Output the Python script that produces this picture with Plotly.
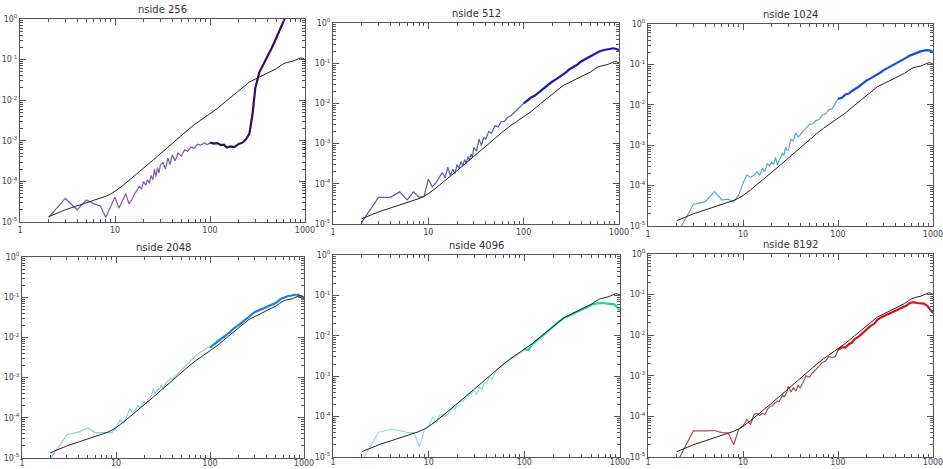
import plotly.graph_objects as go

# ---------------- data ----------------
TITLES = ["nside 256", "nside 512", "nside 1024", "nside 2048", "nside 4096", "nside 8192"]

# theory curve (same in all panels)
TH_L = [2, 3, 4, 5, 6, 7, 8, 9, 10, 12, 14, 17, 20, 25, 30, 40, 50, 60, 70, 85, 100, 120, 150, 180,
        200, 230, 260, 300, 350, 400, 450, 500, 550, 600, 650, 700, 750, 800, 850, 900, 950, 1000]
TH_V = [1.35e-5, 2.0e-5, 2.5e-5, 3.0e-5, 3.4e-5, 3.8e-5, 4.3e-5, 4.9e-5, 5.7e-5, 7.8e-5, 1.05e-4,
        1.5e-4, 2.1e-4, 3.3e-4, 4.8e-4, 8.7e-4, 1.38e-3, 1.95e-3, 2.6e-3, 3.6e-3, 4.5e-3, 6.3e-3,
        9.8e-3, 1.4e-2, 1.7e-2, 2.3e-2, 2.8e-2, 3.3e-2, 3.9e-2, 4.5e-2, 5.2e-2, 6.0e-2, 7.0e-2,
        8.0e-2, 8.5e-2, 8.8e-2, 9.2e-2, 9.8e-2, 0.105, 0.11, 0.108, 0.1]

# multipoles at which the measured spectra are read
L = list(range(2, 31)) + [32, 34, 36, 38, 40, 43, 46, 50, 54, 58, 63, 68, 74, 80, 87, 94, 100,
                          110, 120, 130, 140, 150, 165, 180, 200, 220, 240, 260, 280, 300, 330,
                          360, 400, 440, 480, 520, 570, 620, 680, 740, 800, 870, 940, 1000]

NS256 = [1.3e-5, 3.8e-5, 2.0e-5, 3.5e-5, 2.8e-5, 2.5e-5, 1.3e-5, 2.5e-5, 4.1e-5, 2.2e-5, 3.3e-5,
         5.0e-5, 2.8e-5, 3.5e-5, 4.8e-5, 6.0e-5, 7.5e-5, 6.5e-5, 1.0e-4, 8.0e-5, 1.1e-4, 9.0e-5,
         1.4e-4, 1.1e-4, 2.0e-4, 1.3e-4, 2.2e-4, 1.6e-4, 2.5e-4,
         3.0e-4, 2.0e-4, 3.8e-4, 2.6e-4, 4.5e-4, 3.2e-4, 5.0e-4, 4.2e-4, 6.0e-4, 5.5e-4, 7.0e-4,
         6.5e-4, 8.2e-4, 7.8e-4, 9.0e-4, 8.0e-4, 9.0e-4, 8.5e-4, 8.8e-4, 7.8e-4, 8.0e-4, 6.8e-4,
         7.3e-4, 7.0e-4, 8.3e-4, 9.0e-4, 1.1e-3, 1.5e-3, 4.5e-3, 2.0e-2, 4.8e-2, 7.0e-2, 0.115,
         0.18, 0.28, 0.42, 0.7, 1.1, None, None, None, None, None, None]

NS512 = [1.1e-5, 4.6e-5, 4.6e-5, 6.3e-5, 4.0e-5, 6.3e-5, 4.6e-5, 4.8e-5, 1.3e-4, 8.5e-5, 1.05e-4,
         1.4e-4, 1.9e-4, 1.4e-4, 2.6e-4, 1.6e-4, 2.3e-4, 1.8e-4, 3.0e-4, 2.4e-4, 3.6e-4, 2.8e-4,
         4.0e-4, 3.2e-4, 4.8e-4, 3.8e-4, 5.5e-4, 4.5e-4, 8.0e-4,
         6.5e-4, 1.3e-3, 9.0e-4, 1.4e-3, 1.3e-3, 2.0e-3, 1.8e-3, 2.8e-3, 2.6e-3, 3.5e-3, 3.6e-3,
         4.5e-3, 5.0e-3, 6.0e-3, 7.0e-3, 8.5e-3, 1.0e-2, 1.2e-2, 1.4e-2, 1.55e-2, 1.8e-2, 2.0e-2,
         2.5e-2, 2.9e-2, 3.5e-2, 4.0e-2, 4.6e-2, 5.3e-2, 6.0e-2, 7.0e-2, 8.0e-2, 9.0e-2, 0.11,
         0.125, 0.145, 0.16, 0.18, 0.195, 0.21, 0.22, 0.23, 0.235, 0.225, 0.21]

NS1024 = [6e-6, 3.4e-5, 4.0e-5, 7.1e-5, 4.4e-5, 4.6e-5, 4.0e-5, 5.8e-5, 1.15e-4, 1.85e-4, 1.6e-4,
          1.8e-4, 2.2e-4, 1.8e-4, 2.7e-4, 2.2e-4, 3.6e-4, 3.0e-4, 3.8e-4, 3.3e-4, 5.0e-4, 3.2e-4,
          4.3e-4, 5.0e-4, 6.5e-4, 5.5e-4, 9.0e-4, 7.5e-4, 7.7e-4,
          1.4e-3, 1.3e-3, 2.0e-3, 1.6e-3, 1.8e-3, 2.3e-3, 2.6e-3, 3.3e-3, 3.3e-3, 4.0e-3, 4.3e-3,
          5.5e-3, 6.0e-3, 7.5e-3, 8.0e-3, 1.1e-2, 1.4e-2, 1.5e-2, 1.8e-2, 1.9e-2, 2.2e-2, 2.4e-2,
          2.8e-2, 3.3e-2, 4.0e-2, 4.5e-2, 5.0e-2, 5.7e-2, 6.3e-2, 7.1e-2, 8.0e-2, 9.0e-2, 0.1,
          0.115, 0.13, 0.145, 0.165, 0.18, 0.2, 0.21, 0.22, 0.225, 0.22, 0.2]

NS2048 = [9.5e-6, 3.8e-5, 4.4e-5, 5.6e-5, 4.3e-5, 4.3e-5, 4.4e-5, 4.3e-5, 5.6e-5, 8.7e-5, 7.5e-5,
          1.07e-4, 1.7e-4, 1.3e-4, 1.5e-4, 2.0e-4, 1.8e-4, 2.1e-4, 2.5e-4, 2.3e-4, 3.0e-4, 3.1e-4,
          3.7e-4, 5.3e-4, 4.0e-4, 4.4e-4, 5.2e-4, 5.0e-4, 6.4e-4,
          5.3e-4, 7.3e-4, 8.3e-4, 9.5e-4, 9.3e-4, 1.1e-3, 1.35e-3, 1.6e-3, 1.9e-3, 2.2e-3, 2.8e-3,
          3.2e-3, 3.8e-3, 4.4e-3, 4.8e-3, 5.6e-3, 5.6e-3, 6.8e-3, 7.8e-3, 9.0e-3, 1.0e-2, 1.15e-2,
          1.4e-2, 1.7e-2, 2.0e-2, 2.4e-2, 2.8e-2, 3.4e-2, 3.9e-2, 4.3e-2, 4.7e-2, 5.2e-2, 5.7e-2,
          6.3e-2, 6.9e-2, 7.6e-2, 9.2e-2, 0.1, 0.107, 0.11, 0.115, 0.115, 0.1, 0.088]

NS4096 = [8e-6, 4.1e-5, 4.8e-5, 4.5e-5, 4.0e-5, 4.0e-5, 1.8e-5, 4.6e-5, 6.0e-5, 9.6e-5, 7.3e-5,
          1.1e-4, 1.1e-4, 1.05e-4, 1.2e-4, 1.4e-4, 1.7e-4, 1.6e-4, 2.0e-4, 2.2e-4, 2.5e-4, 2.4e-4,
          2.8e-4, 3.5e-4, 3.2e-4, 4.2e-4, 3.5e-4, 4.5e-4, 4.2e-4,
          3.5e-4, 5.5e-4, 4.5e-4, 7.0e-4, 6.5e-4, 9.5e-4, 8.5e-4, 1.3e-3, 1.6e-3, 1.7e-3, 2.2e-3,
          2.3e-3, 2.9e-3, 3.0e-3, 3.6e-3, 3.8e-3, 4.6e-3, 4.5e-3, 6.0e-3, 7.0e-3, 8.0e-3, 9.5e-3,
          1.15e-2, 1.35e-2, 1.7e-2, 2.1e-2, 2.4e-2, 2.8e-2, 3.0e-2, 3.3e-2, 3.6e-2, 4.0e-2, 4.5e-2,
          5.0e-2, 5.5e-2, 6.0e-2, 6.3e-2, 6.5e-2, 6.4e-2, 6.3e-2, 6.3e-2, 6.0e-2, 5.0e-2, 4.2e-2]

NS8192 = [7e-6, 4.4e-5, 4.4e-5, 4.5e-5, 4.0e-5, 3.9e-5, 2.0e-5, 4.8e-5, 5.8e-5, 8.5e-5, 6.3e-5,
          1.1e-4, 1.2e-4, 1.05e-4, 1.2e-4, 1.1e-4, 1.5e-4, 1.7e-4, 1.8e-4, 2.0e-4, 2.3e-4, 2.4e-4,
          2.3e-4, 2.7e-4, 3.3e-4, 3.0e-4, 3.6e-4, 4.0e-4, 5.6e-4,
          4.0e-4, 5.0e-4, 4.2e-4, 5.8e-4, 5.0e-4, 7.0e-4, 1.0e-3, 9.3e-4, 1.2e-3, 1.4e-3, 1.7e-3,
          2.1e-3, 2.3e-3, 3.0e-3, 2.8e-3, 3.0e-3, 4.4e-3, 5.0e-3, 5.0e-3, 6.0e-3, 6.6e-3, 8.0e-3,
          9.2e-3, 1.1e-2, 1.4e-2, 1.7e-2, 1.9e-2, 2.4e-2, 2.7e-2, 2.9e-2, 3.2e-2, 3.6e-2, 3.9e-2,
          4.3e-2, 4.7e-2, 5.3e-2, 6.2e-2, 6.5e-2, 6.2e-2, 6.2e-2, 6.0e-2, 5.3e-2, 4.3e-2, 3.5e-2]

SERIES = [NS256, NS512, NS1024, NS2048, NS4096, NS8192]

X_TICKS = [1, 10, 100, 1000]
X_TICKTEXT = ["1", "10", "100", "1000"]
Y_TICKS = [1e-5, 1e-4, 1e-3, 1e-2, 1e-1, 1]
Y_TICKTEXT = ["10<sup>-5</sup>", "10<sup>-4</sup>", "10<sup>-3</sup>", "10<sup>-2</sup>",
              "10<sup>-1</sup>", "10<sup>0</sup>"]

# ---------------- style ----------------
LOW_COLORS = ["#8458ac", "#5a58b0", "#58a8d0", "#80d4e6", "#80e6e0", "#b04c4c"]
HIGH_COLORS = ["#2c1258", "#1c1cb4", "#1450d8", "#1a80e0", "#18d8a8", "#d01616"]

W, H = 943, 469
# panel pixel boxes: (left, right, top, bottom)
BOXES = [(20, 305, 19, 222), (333, 619, 23, 224), (648, 933, 24, 226),
         (22, 304, 257, 458), (333, 620, 255, 457), (648, 933, 254, 457)]

minor_x = [m * 10 ** e for e in range(0, 3) for m in range(2, 10)]
minor_y = [m * 10.0 ** e for e in range(-5, 0) for m in range(2, 10)]

fig = go.Figure()
AX = "#555555"
TICKFONT = dict(family="DejaVu Sans", size=8, color="#444444")

for i, (ttl, ser) in enumerate(zip(TITLES, SERIES)):
    n = "" if i == 0 else str(i + 1)
    xa, ya = "x" + n, "y" + n
    lo_l = [l for l in L if l <= 100]
    lo_v = [v for l, v in zip(L, ser) if l <= 100]
    hi_l = [l for l in L if l >= 100]
    hi_v = [v for l, v in zip(L, ser) if l >= 100]
    fig.add_trace(go.Scatter(x=lo_l, y=lo_v, mode="lines", xaxis=xa, yaxis=ya,
                             line=dict(color=LOW_COLORS[i], width=1.2), showlegend=False))
    fig.add_trace(go.Scatter(x=hi_l, y=hi_v, mode="lines", xaxis=xa, yaxis=ya,
                             line=dict(color=HIGH_COLORS[i], width=2.2), showlegend=False))
    fig.add_trace(go.Scatter(x=TH_L, y=TH_V, mode="lines", xaxis=xa, yaxis=ya,
                             line=dict(color="#222222", width=1), showlegend=False))

    left, right, top, bottom = BOXES[i]
    xd = [left / W, right / W]
    yd = [1 - bottom / H, 1 - top / H]
    common = dict(showline=True, linecolor=AX, linewidth=1, mirror="ticks", ticks="inside",
                  tickcolor=AX, ticklen=6, tickwidth=1, showgrid=False, zeroline=False,
                  tickfont=TICKFONT, automargin=False, ticklabeloverflow="allow")
    fig.layout["xaxis" + n] = dict(type="log", range=[0, 3], domain=xd, anchor=ya,
                                   tickmode="array", tickvals=X_TICKS, ticktext=X_TICKTEXT,
                                   minor=dict(tickmode="array", tickvals=minor_x, ticks="inside",
                                              ticklen=3, tickcolor=AX),
                                   ticklabelstandoff=(-3 if i >= 3 else 0),
                                   **common)
    fig.layout["yaxis" + n] = dict(type="log", range=[-5, 0], domain=yd, anchor=xa,
                                   tickmode="array", tickvals=Y_TICKS, ticktext=Y_TICKTEXT,
                                   minor=dict(tickmode="array", tickvals=minor_y, ticks="inside",
                                              ticklen=3, tickcolor=AX),
                                   ticklabelstandoff=0,
                                   **common)
    fig.add_annotation(text=ttl, xref="paper", yref="paper", x=(xd[0] + xd[1]) / 2,
                       y=yd[1] + 2 / H, xanchor="center", yanchor="bottom", showarrow=False,
                       font=dict(family="DejaVu Sans", size=10, color="#333333"))

fig.update_layout(width=W, height=H, margin=dict(l=0, r=0, t=0, b=0),
                  paper_bgcolor="white", plot_bgcolor="white")
fig.write_html("out.html")
